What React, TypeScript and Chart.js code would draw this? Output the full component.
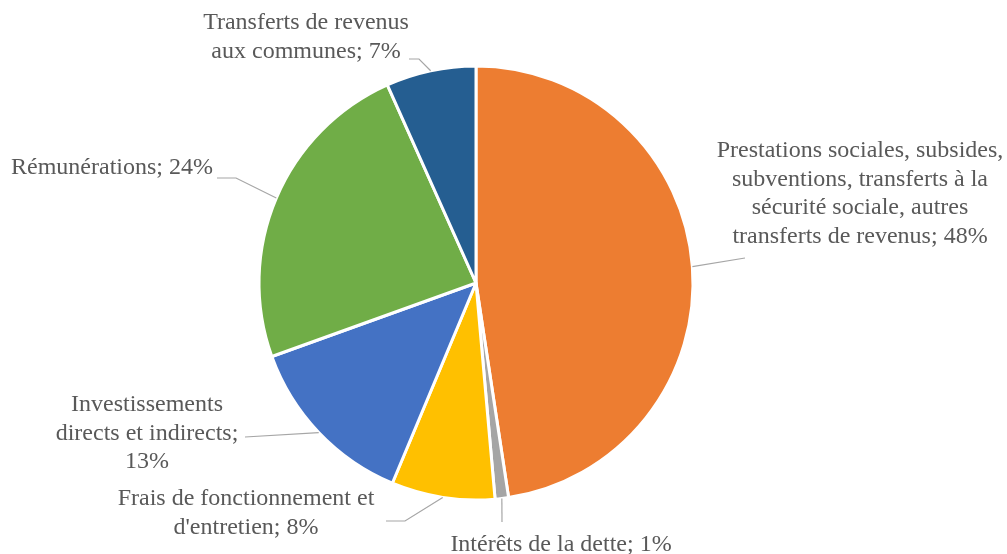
import React, { useEffect, useRef } from "react";
import { Chart, registerables } from "chart.js";

Chart.register(...registerables);

const categories: string[][] = [
  ["Prestations sociales, subsides,", "subventions, transferts à la", "sécurité sociale, autres", "transferts de revenus; 48%"],
  ["Intérêts de la dette; 1%"],
  ["Frais de fonctionnement et", "d'entretien; 8%"],
  ["Investissements", "directs et indirects;", "13%"],
  ["Rémunérations; 24%"],
  ["Transferts de revenus", "aux communes; 7%"],
];
const values: number[] = [47.6, 1.0, 7.7, 13.2, 23.8, 6.7];
const colors: string[] = ["#ED7D31", "#A5A5A5", "#FFC000", "#4472C4", "#70AD47", "#255E91"];

// label layout: text center x, first line center y, leader path (after the arc point)
const labelLayout = [
  { x: 860, y: 151, path: [[745, 258]] },
  { x: 561, y: 545, path: [[502, 522]] },
  { x: 246, y: 499, path: [[405, 521], [386, 521]] },
  { x: 147, y: 405, path: [[245, 437]] },
  { x: 112, y: 168, path: [[236, 178], [217, 178]] },
  { x: 306, y: 23, path: [[419, 59], [409, 59]] },
];

const FONT = '24px "Liberation Serif", "Times New Roman", serif';
const LINE_H = 28.5;

const labelPlugin = {
  id: "pieLabels",
  afterDraw(chart: any) {
    const ctx = chart.ctx;
    const meta = chart.getDatasetMeta(0);
    ctx.save();
    meta.data.forEach((arc: any, i: number) => {
      const { x, y, startAngle, endAngle, outerRadius } = arc.getProps(
        ["x", "y", "startAngle", "endAngle", "outerRadius"],
        true
      );
      const mid = (startAngle + endAngle) / 2;
      const sx = x + Math.cos(mid) * outerRadius;
      const sy = y + Math.sin(mid) * outerRadius;
      const lay = labelLayout[i];
      ctx.strokeStyle = "#A6A6A6";
      ctx.lineWidth = 1.2;
      ctx.beginPath();
      ctx.moveTo(sx, sy);
      lay.path.forEach((p) => ctx.lineTo(p[0], p[1]));
      ctx.stroke();
      ctx.fillStyle = "#595959";
      ctx.font = FONT;
      ctx.textAlign = "center";
      ctx.textBaseline = "middle";
      categories[i].forEach((line, k) => {
        ctx.fillText(line, lay.x, lay.y + k * LINE_H);
      });
    });
    ctx.restore();
  },
};

export default function App() {
  const ref = useRef<HTMLCanvasElement>(null);
  useEffect(() => {
    if (!ref.current) return;
    const chart = new Chart(ref.current, {
      type: "pie",
      data: {
        labels: categories.map((c) => c.join(" ")),
        datasets: [
          {
            data: values,
            backgroundColor: colors,
            borderColor: "#FFFFFF",
            borderWidth: 3,
          },
        ],
      },
      options: {
        animation: false,
        responsive: false,
        maintainAspectRatio: false,
        layout: { padding: { left: 257.5, right: 312.5, top: 64.5, bottom: 52.5 } },
        plugins: {
          legend: { display: false },
          tooltip: { enabled: false },
        },
      },
      plugins: [labelPlugin],
    });
    return () => chart.destroy();
  }, []);
  return (
    <div style={{ position: "fixed", left: 0, top: 0, width: 1007, height: 554, background: "#fff" }}>
      <canvas ref={ref} width={1007} height={554} style={{ width: 1007, height: 554 }} />
    </div>
  );
}
